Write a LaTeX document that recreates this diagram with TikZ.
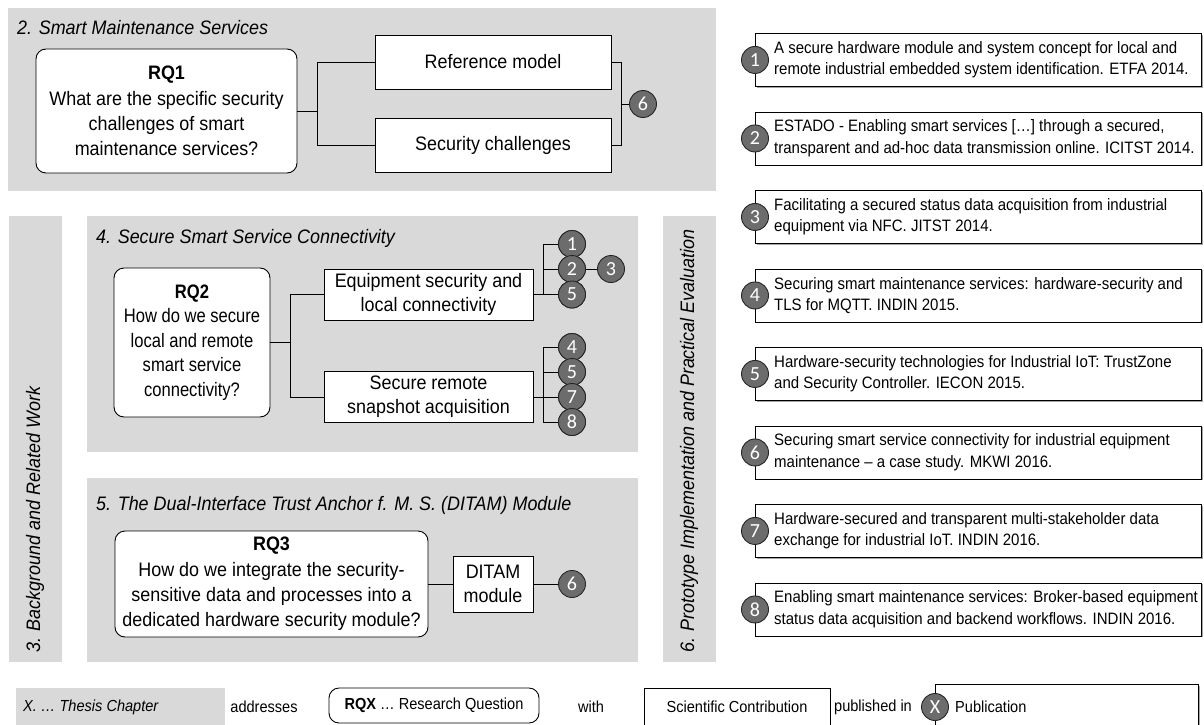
\documentclass[tikz,border=0pt]{standalone}
\usepackage{fontspec}
\setmainfont{Liberation Sans}
\newfontfamily\boxfont{Liberation Sans}[FakeStretch=0.92]
\newfontfamily\narrowfont{Liberation Sans}[FakeStretch=0.85]
\newfontfamily\pubfont{Liberation Sans}[FakeStretch=0.91]
\newfontfamily\numfont{Carlito}
\usetikzlibrary{shadows}
\definecolor{panelgray}{RGB}{217,217,217}
\definecolor{circgray}{RGB}{108,108,108}

\begin{document}
\begin{tikzpicture}[x=1pt,y=-1pt,
  panel/.style={fill=panelgray, draw=none},
  chaptitle/.style={anchor=west, inner sep=0pt, font=\boxfont\itshape\fontsize{19.5}{23}\selectfont},
  sidetitle/.style={rotate=90, anchor=west, inner sep=0pt, font=\boxfont\itshape\fontsize{19.5}{23}\selectfont},
  rqbox/.style={draw, fill=white, rounded corners=10pt, line width=0.9pt, align=center, inner sep=0pt,
    font=\boxfont\fontsize{19.5}{25.3}\selectfont},
  cbox/.style={draw, fill=white, line width=0.9pt, align=center, inner sep=0pt,
    font=\boxfont\fontsize{19.5}{24}\selectfont},
  pub/.style={circle, draw=black!85, line width=0.9pt, fill=circgray, minimum size=27pt, inner sep=0pt,
    text=white, font=\numfont\fontsize{20}{20}\selectfont},
  pubbox/.style={draw, fill=white, line width=0.9pt,
    drop shadow={shadow xshift=1.5pt, shadow yshift=-1.5pt, opacity=0.35, fill=black}},
  pubtext/.style={anchor=west, align=left, inner sep=0pt, font=\pubfont\fontsize{16.5}{21.5}\selectfont},
  wire/.style={line width=0.9pt},
  legtext/.style={inner sep=0pt, font=\pubfont\fontsize{16}{19}\selectfont}
]
\clip (0,0) rectangle (1204,725);
\useasboundingbox (0,0) rectangle (1204,725);

% chapter panels
\fill[panelgray] (8,8) rectangle (716,191);
\fill[panelgray] (9,216) rectangle (62,662);
\fill[panelgray] (87,216) rectangle (638,452);
\fill[panelgray] (87,478) rectangle (638,662);
\fill[panelgray] (663,216) rectangle (716,662);

\node[chaptitle] (t2) at (17,28) {2. Smart Maintenance Services};
\node[chaptitle] (t4) at (96,238) {4. Secure Smart Service Connectivity};
\node[chaptitle] (t5) at (96,505) {5. The Dual-Interface Trust Anchor f. M. S. (DITAM) Module};
\node[sidetitle] (t3) at (35,653) {3. Background and Related Work};
\node[sidetitle] (t6) at (689,653) {6. Prototype Implementation and Practical Evaluation};

% chapter 2
\node[rqbox, minimum width=261pt, minimum height=124pt] (rq1) at (166.5,111)
  {\textbf{RQ1}\\What are the specific security\\challenges of smart\\maintenance services?};
\node[cbox, minimum width=236pt, minimum height=54pt] (ref) at (493,62) {Reference model};
\node[cbox, minimum width=236pt, minimum height=54pt] (sec) at (493,145) {Security challenges};
\node[pub] (c6a) at (643,104) {6};
\path (rq1.east) ++(20,0) coordinate (j1);
\draw[wire] (rq1.east) -- (j1);
\draw[wire] (ref.west) -| (j1) |- (sec.west);
\path (ref.east) ++(10,0) coordinate (k1);
\draw[wire] (ref.east) -- (k1) |- (sec.east);
\draw[wire] (k1 |- c6a) -- (c6a.west);

% chapter 4
\node[rqbox, minimum width=156pt, minimum height=149pt, font=\narrowfont\fontsize{19.5}{24.5}\selectfont] (rq2) at (192,342.5)
  {\textbf{RQ2}\\How do we secure\\local and remote\\smart service\\connectivity?};
\node[cbox, minimum width=209pt, minimum height=51pt] (eq) at (428.5,294.5) {Equipment security and\\local connectivity};
\node[cbox, minimum width=209pt, minimum height=51pt] (sr) at (428.5,397) {Secure remote\\snapshot acquisition};
\path (rq2.east) ++(20,0) coordinate (j2);
\draw[wire] (rq2.east) -- (j2);
\draw[wire] (eq.west) -| (j2) |- (sr.west);

\node[pub] (c1a) at (572,244) {1};
\node[pub] (c2a) at (572,269) {2};
\node[pub] (c5a) at (572,294.5) {5};
\node[pub] (c3a) at (611,269) {3};
\path (eq.east) ++(10,0) coordinate (k2);
\draw[wire] (eq.east) -- (c5a.west);
\draw[wire] (k2) |- (c1a.west);
\draw[wire] (k2 |- c2a) -- (c2a.west);
\draw[wire] (c2a.east) -- (c3a.west);
\node[pub] (c1a) at (572,244) {1};
\node[pub] (c2a) at (572,269) {2};
\node[pub] (c5a) at (572,294.5) {5};

\node[pub] (c4b) at (572,347) {4};
\node[pub] (c5b) at (572,372) {5};
\node[pub] (c7b) at (572,397) {7};
\node[pub] (c8b) at (572,422) {8};
\path (sr.east) ++(10,0) coordinate (k3);
\draw[wire] (sr.east) -- (c7b.west);
\draw[wire] (c4b.west) -| (k3) |- (c8b.west);
\draw[wire] (k3 |- c5b) -- (c5b.west);
\node[pub] (c4b) at (572,347) {4};
\node[pub] (c5b) at (572,372) {5};
\node[pub] (c7b) at (572,397) {7};
\node[pub] (c8b) at (572,422) {8};

% chapter 5
\node[rqbox, minimum width=313pt, minimum height=106pt] (rq3) at (271.5,584)
  {\textbf{RQ3}\\How do we integrate the security-\\sensitive data and processes into a\\dedicated hardware security module?};
\node[cbox, minimum width=80pt, minimum height=56pt] (ditam) at (493,584) {DITAM\\module};
\node[pub] (c6b) at (572,584) {6};
\draw[wire] (rq3.east) -- (ditam.west);
\draw[wire] (ditam.east) -- (c6b.west);

% publications
\foreach \i/\la/\lb in {
  1/{A secure hardware module and system concept for local and}/{remote industrial embedded system identification. ETFA 2014.},
  2/{ESTADO - Enabling smart services […] through a secured,}/{transparent and ad-hoc data transmission online. ICITST 2014.},
  3/{Facilitating a secured status data acquisition from industrial}/{equipment via NFC. JITST 2014.},
  4/{Securing smart maintenance services: hardware-security and}/{TLS for MQTT. INDIN 2015.},
  5/{Hardware-security technologies for Industrial IoT: TrustZone}/{and Security Controller. IECON 2015.},
  6/{Securing smart service connectivity for industrial equipment}/{maintenance – a case study. MKWI 2016.},
  7/{Hardware-secured and transparent multi-stakeholder data}/{exchange for industrial IoT. INDIN 2016.},
  8/{Enabling smart maintenance services: Broker-based equipment}/{status data acquisition and backend workflows. INDIN 2016.}}{
  \pgfmathsetmacro{\top}{33+78.5*(\i-1)}
  \node[pubbox, anchor=north west, minimum width=446pt, minimum height=53pt] (pb\i) at (755,\top) {};
  \node[pub] (p\i) at (pb\i.west) {\i};
  \node[pubtext] (pt\i) at ([xshift=19pt]pb\i.west) {\la\\\lb};
}

% legend
\fill[panelgray] (16,688) rectangle (225,730);
\node[legtext, anchor=west, font=\pubfont\itshape\fontsize{16}{19}\selectfont] (lg1) at (23,707) {X. … Thesis Chapter};
\node[legtext] (lg2) at (264,707) {addresses};
\node[rqbox, minimum width=210pt, minimum height=35pt, font=\pubfont\fontsize{16}{19}\selectfont] (lg3) at (434,705.5)
  {\textbf{RQX} … Research Question};
\node[legtext] (lg4) at (591,707) {with};
\node[cbox, anchor=north west, minimum width=186pt, minimum height=45pt] (lg5) at (644,688) {};
\node[legtext] (lg5t) at (737,707) {Scientific Contribution};
\node[legtext] (lg6) at (873,707) {published in};
\node[pubbox, anchor=north west, minimum width=263pt, minimum height=50pt] (lg7) at (935,684) {};
\node[pub] (lg7c) at (935,707) {X};
\node[legtext, anchor=west] (lg7t) at (955,707) {Publication};
\end{tikzpicture}
\end{document}
